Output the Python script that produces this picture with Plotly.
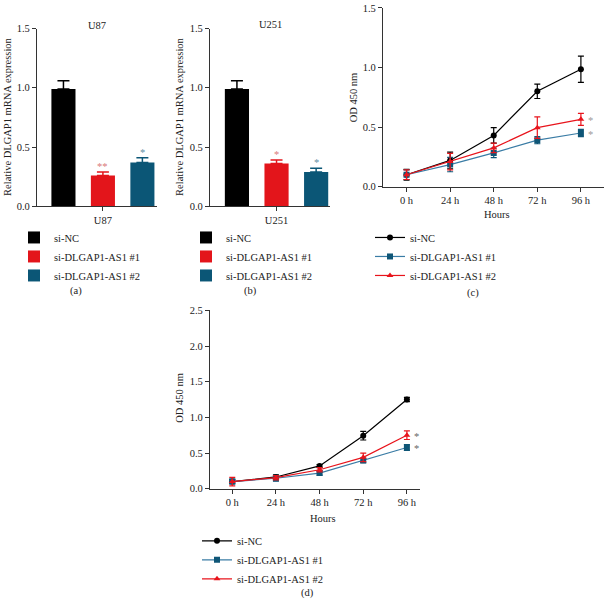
import plotly.graph_objects as go

W, H = 604, 605

# bar panels (a) U87, (b) U251
groups = ["si-NC", "si-DLGAP1-AS1 #1", "si-DLGAP1-AS1 #2"]
bar_colors = ["#000000", "#e3151b", "#0b5676"]
star_colors = ["#000000", "#d9787a", "#5f8fa5"]
u87_mean = [0.99, 0.26, 0.37]
u87_err = [0.07, 0.03, 0.04]
u87_sig = ["", "**", "*"]
u251_mean = [0.99, 0.36, 0.29]
u251_err = [0.07, 0.03, 0.03]
u251_sig = ["", "*", "*"]

# growth curves (c) and (d)
hours = ["0 h", "24 h", "48 h", "72 h", "96 h"]
line_names = ["si-NC", "si-DLGAP1-AS1 #1", "si-DLGAP1-AS1 #2"]
line_colors = ["#000000", "#3a7ca5", "#e8141c"]
marker_colors = ["#000000", "#0f5677", "#e8141c"]
symbols = ["circle", "square", "triangle-up"]
c_vals = [
    [0.10, 0.22, 0.43, 0.80, 0.985],
    [0.10, 0.185, 0.283, 0.39, 0.45],
    [0.10, 0.21, 0.325, 0.495, 0.565],
]
c_err = [
    [0.045, 0.07, 0.065, 0.06, 0.11],
    [0.04, 0.06, 0.04, 0.03, 0.03],
    [0.04, 0.07, 0.04, 0.09, 0.05],
]
d_vals = [
    [0.10, 0.165, 0.32, 0.743, 1.25],
    [0.10, 0.147, 0.22, 0.395, 0.578],
    [0.10, 0.155, 0.266, 0.44, 0.75],
]
d_err = [
    [0.03, 0.03, 0.02, 0.06, 0.03],
    [0.03, 0.04, 0.03, 0.03, 0.04],
    [0.06, 0.03, 0.03, 0.06, 0.06],
]
line_sig = ["", "*", "*"]

FONT = "Liberation Serif"
FS = 10.5
TXT = "#222222"


def px_x(p):
    return p / W


def px_y(p):
    return 1 - p / H


fig = go.Figure()

# bars
for mean, err, sig, xa, ya, leg in [
    (u87_mean, u87_err, u87_sig, "x", "y", "legend"),
    (u251_mean, u251_err, u251_sig, "x2", "y2", "legend2"),
]:
    for i, g in enumerate(groups):
        fig.add_trace(go.Bar(
            x=[i], y=[mean[i]], width=0.61, name=g,
            marker=dict(color=bar_colors[i], line=dict(width=0)),
            error_y=dict(type="data", array=[err[i]], arrayminus=[0], symmetric=False,
                         color=bar_colors[i], thickness=1.5, width=6),
            xaxis=xa, yaxis=ya, legend=leg,
        ))
        if sig[i]:
            fig.add_annotation(x=i, y=mean[i] + err[i], xref=xa, yref=ya, text=sig[i],
                               showarrow=False, yanchor="bottom", yshift=-2,
                               font=dict(family=FONT, size=FS, color=star_colors[i]))

# lines
for vals, errs, xa, ya, leg, scol in [
    (c_vals, c_err, "x3", "y3", "legend3", "#999999"),
    (d_vals, d_err, "x4", "y4", "legend4", "#666666"),
]:
    for k, nm in enumerate(line_names):
        fig.add_trace(go.Scatter(
            x=list(range(len(hours))), y=vals[k], name=nm, mode="lines+markers",
            line=dict(color=line_colors[k], width=1.2),
            marker=dict(symbol=symbols[k], size=6, color=marker_colors[k]),
            error_y=dict(type="data", array=errs[k], color=marker_colors[k],
                         thickness=1.2, width=3),
            xaxis=xa, yaxis=ya, legend=leg,
        ))
        if line_sig[k]:
            fig.add_annotation(x=len(hours) - 1, y=vals[k][-1], xref=xa, yref=ya,
                               text=line_sig[k], showarrow=False, xanchor="left",
                               xshift=5, yshift=-1,
                               font=dict(family=FONT, size=FS, color=scol))

axis_common = dict(showline=True, linecolor="#333333", linewidth=1.2, ticks="outside",
                   ticklen=4, tickcolor="#333333", showgrid=False, zeroline=False,
                   tickfont=dict(family=FONT, size=FS, color=TXT), fixedrange=True)

fig.update_layout(
    width=W, height=H, autosize=False,
    margin=dict(l=0, r=0, t=0, b=0),
    paper_bgcolor="white", plot_bgcolor="white",
    barmode="overlay",
    font=dict(family=FONT, size=FS, color=TXT),
    xaxis=dict(domain=[px_x(37), px_x(157)], range=[-0.67, 2.37], anchor="y",
               tickvals=[1], ticktext=["U87"], **axis_common),
    yaxis=dict(domain=[px_y(205), px_y(24)], range=[0, 1.5], anchor="x",
               tickvals=[0, 0.5, 1.0, 1.5], tickformat=".1f", **axis_common),
    xaxis2=dict(domain=[px_x(210), px_x(330)], range=[-0.68, 2.35], anchor="y2",
                tickvals=[1], ticktext=["U251"], **axis_common),
    yaxis2=dict(domain=[px_y(205), px_y(24)], range=[0, 1.5], anchor="x2",
                tickvals=[0, 0.5, 1.0, 1.5], tickformat=".1f", **axis_common),
    xaxis3=dict(domain=[px_x(383), 1.0], range=[-0.54, 4.53], anchor="y3",
                tickvals=list(range(len(hours))), ticktext=hours, **axis_common),
    yaxis3=dict(domain=[px_y(185), px_y(3)], range=[0, 1.5], anchor="x3",
                tickvals=[0, 0.5, 1.0, 1.5], tickformat=".1f", **axis_common),
    xaxis4=dict(domain=[px_x(210), px_x(420)], range=[-0.51, 4.3], anchor="y4",
                tickvals=list(range(len(hours))), ticktext=hours, **axis_common),
    yaxis4=dict(domain=[px_y(492.7), px_y(311)], range=[0, 2.5], anchor="x4",
                tickvals=[0, 0.5, 1.0, 1.5, 2.0, 2.5], tickformat=".1f", **axis_common),
)

leg_common = dict(font=dict(family=FONT, size=FS, color=TXT), bgcolor="rgba(0,0,0,0)",
                  xanchor="left", yanchor="top", tracegroupgap=0, itemclick=False,
                  itemdoubleclick=False)
fig.update_layout(
    legend=dict(x=px_x(14), y=px_y(222), **leg_common),
    legend2=dict(x=px_x(186), y=px_y(222), **leg_common),
    legend3=dict(x=px_x(370), y=px_y(222), **leg_common),
    legend4=dict(x=px_x(197), y=px_y(531), **leg_common),
)

# text labels
labels = [
    ("U87", 97, 21, 0), ("U251", 270, 20, 0),
    ("Relative DLGAP1 mRNA expression", 8, 114, -90),
    ("Relative DLGAP1 mRNA expression", 180, 114, -90),
    ("OD 450 nm", 353, 94, -90), ("OD 450 nm", 180, 400, -90),
    ("Hours", 497, 213, 0), ("Hours", 323, 523, 0),
    ("(a)", 76, 291, 0), ("(b)", 250, 291, 0), ("(c)", 473, 293, 0), ("(d)", 307, 599, 0),
]
for t, x, y, ang in labels:
    fig.add_annotation(x=px_x(x), y=px_y(y), xref="paper", yref="paper", text=t,
                       showarrow=False, textangle=ang, xanchor="center", yanchor="middle",
                       font=dict(family=FONT, size=FS, color=TXT))

fig.write_html("out.html", config={"displayModeBar": False},
               post_script="document.body.style.margin='0px';")
